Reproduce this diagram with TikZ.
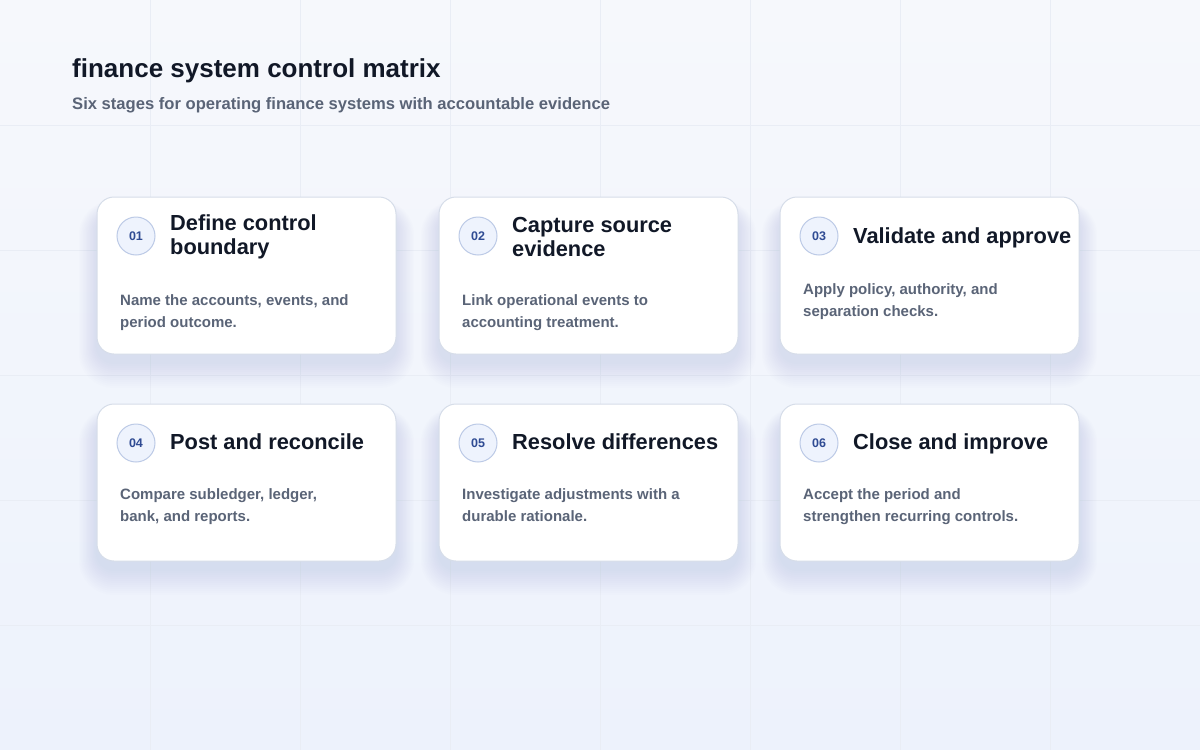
\documentclass[tikz,border=0pt]{standalone}
\usepackage{fontspec}
\setmainfont{Liberation Sans}
\usepackage{tikz}
\usetikzlibrary{positioning}

\definecolor{bgtop}{HTML}{F6F8FC}
\definecolor{bgbot}{HTML}{EDF2FC}
\definecolor{gridc}{HTML}{E9EDF5}
\definecolor{inkc}{HTML}{111827}
\definecolor{slatec}{HTML}{5A6477}
\definecolor{edgec}{HTML}{D6DDE9}
\definecolor{shadec}{HTML}{7F8CAD}
\definecolor{badgef}{HTML}{EEF3FD}
\definecolor{badged}{HTML}{BCCAE6}
\definecolor{badget}{HTML}{2F4B93}

\begin{document}
\begin{tikzpicture}[x=1pt,y=-1pt,card/.style={shape=rectangle,rounded corners=17pt,draw=edgec,line width=1pt,fill=white,minimum width=\cw pt,minimum height=\ch pt},badge/.style={shape=circle,draw=badged,line width=1pt,fill=badgef,minimum size=38pt,inner sep=0pt,text=badget,font=\bfseries\fontsize{12.5}{14}\selectfont},head/.style={anchor=west,align=left,inner sep=0pt,text=inkc,font=\bfseries\fontsize{21.8}{24.5}\selectfont},body/.style={anchor=north west,align=left,inner sep=0pt,text=slatec,font=\bfseries\fontsize{15}{22}\selectfont}]
\def\cw{299}
\def\ch{157}
\def\xa{97}
\def\xb{439}
\def\xc{780}
\def\ya{197}
\def\yb{404}

\useasboundingbox (0,0) rectangle (1200,750);
\shade[top color=bgtop,bottom color=bgbot] (0,0) rectangle (1200,750);
\foreach \gx in {150,300,...,1050} \draw[gridc,line width=0.7pt] (\gx,0) -- (\gx,750);
\foreach \gy in {125,250,...,625} \draw[gridc,line width=0.7pt] (0,\gy) -- (1200,\gy);

\node[anchor=base west,inner sep=0pt,text=inkc,font=\bfseries\fontsize{26}{30}\selectfont] (title) at (72,77) {finance system control matrix};
\node[anchor=base west,inner sep=0pt,text=slatec,font=\bfseries\fontsize{16.6}{20}\selectfont] (subtitle) at (72,109) {Six stages for operating finance systems with accountable evidence};

\foreach \sx/\sy in {\xa/\ya,\xb/\ya,\xc/\ya,\xa/\yb,\xb/\yb,\xc/\yb}
  \foreach \k in {2,4,...,26}
    \fill[shadec,opacity=0.012,rounded corners=17pt+0.7*\k pt] (\sx-0.7*\k,\sy+16-0.5*\k) rectangle (\sx+\cw+0.7*\k,\sy+\ch+8+\k);

\node[card] (C1) at (\xa+0.5*\cw,\ya+0.5*\ch) {};
\node[badge] (N1) at (\xa+39,\ya+39) {01};
\node[head] (T1) at (\xa+73,\ya+40) {Define control\\boundary};
\node[body] (B1) at (\xa+23,\ya+97) {Name the accounts, events, and\\period outcome.};

\node[card] (C2) at (\xb+0.5*\cw,\ya+0.5*\ch) {};
\node[badge] (N2) at (\xb+39,\ya+39) {02};
\node[head] (T2) at (\xb+73,\ya+40) {Capture source\\evidence};
\node[body] (B2) at (\xb+23,\ya+97) {Link operational events to\\accounting treatment.};

\node[card] (C3) at (\xc+0.5*\cw,\ya+0.5*\ch) {};
\node[badge] (N3) at (\xc+39,\ya+39) {03};
\node[head] (T3) at (\xc+73,\ya+41) {Validate and approve};
\node[body] (B3) at (\xc+23,\ya+86) {Apply policy, authority, and\\separation checks.};

\node[card] (C4) at (\xa+0.5*\cw,\yb+0.5*\ch) {};
\node[badge] (N4) at (\xa+39,\yb+39) {04};
\node[head] (T4) at (\xa+73,\yb+38) {Post and reconcile};
\node[body] (B4) at (\xa+23,\yb+84) {Compare subledger, ledger,\\bank, and reports.};

\node[card] (C5) at (\xb+0.5*\cw,\yb+0.5*\ch) {};
\node[badge] (N5) at (\xb+39,\yb+39) {05};
\node[head] (T5) at (\xb+73,\yb+38) {Resolve differences};
\node[body] (B5) at (\xb+23,\yb+84) {Investigate adjustments with a\\durable rationale.};

\node[card] (C6) at (\xc+0.5*\cw,\yb+0.5*\ch) {};
\node[badge] (N6) at (\xc+39,\yb+39) {06};
\node[head] (T6) at (\xc+73,\yb+40) {Close and improve};
\node[body] (B6) at (\xc+23,\yb+84) {Accept the period and\\strengthen recurring controls.};
\end{tikzpicture}
\end{document}
